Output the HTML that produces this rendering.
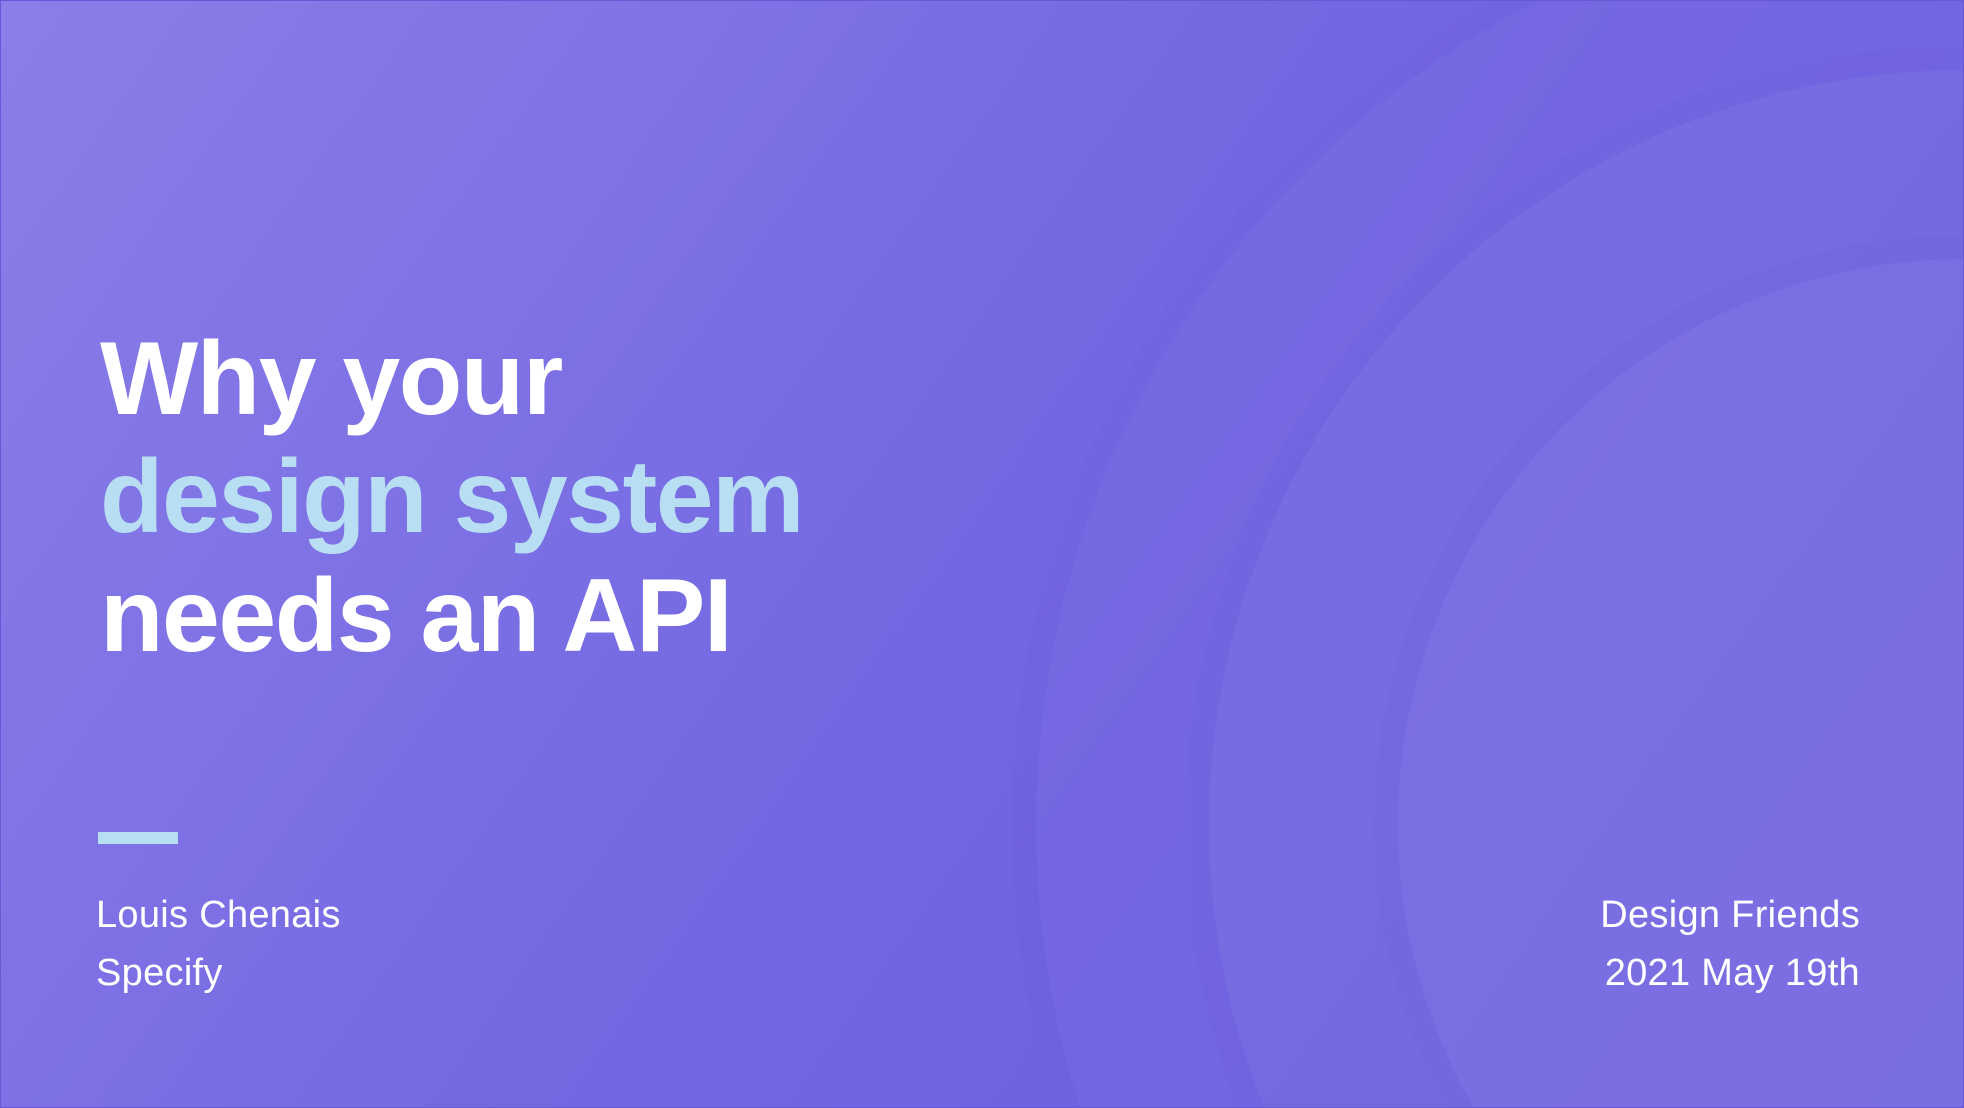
<!DOCTYPE html>
<html><head><meta charset="utf-8"><style>
html,body{margin:0;padding:0;width:1964px;height:1108px;overflow:hidden}
body{position:relative;font-family:"Liberation Sans",sans-serif;
background:linear-gradient(125deg,#8a7ee8 0%,#7a6ee4 35%,#7064e0 60%,#6b5ddf 100%);}
svg{position:absolute;left:0;top:0}
.t{position:absolute;left:100px;font-weight:bold;font-size:104px;letter-spacing:-1.5px;color:#fff;white-space:nowrap;line-height:1}
.s{position:absolute;font-size:38px;color:#fff;white-space:nowrap;line-height:1;letter-spacing:0.3px}
</style></head><body>
<svg width="1964" height="1108">
<circle cx="1964" cy="825" r="928" fill="#7d72e6" fill-opacity="0.3"/>
<circle cx="1964" cy="825" r="940" fill="none" stroke="#6a5cdb" stroke-opacity="0.12" stroke-width="24"/>
<circle cx="1964" cy="825" r="755" fill="#8076e6" fill-opacity="0.3"/>
<circle cx="1964" cy="825" r="767" fill="none" stroke="#6a5cdb" stroke-opacity="0.12" stroke-width="24"/>
<circle cx="1964" cy="825" r="566" fill="#847ae6" fill-opacity="0.3"/>
<circle cx="1964" cy="825" r="578" fill="none" stroke="#6a5cdb" stroke-opacity="0.12" stroke-width="24"/>
<rect x="0.5" y="0.5" width="1963" height="1107" fill="none" stroke="#6658d6" stroke-width="1"/>
</svg>
<div class="t" style="top:327px">Why your</div>
<div class="t" style="top:445px;color:#b8def3">design system</div>
<div class="t" style="top:564px">needs an API</div>
<div style="position:absolute;left:98px;top:832px;width:80px;height:12px;background:#b8def3"></div>
<div class="s" style="left:96px;top:896px">Louis Chenais</div>
<div class="s" style="left:96px;top:954px">Specify</div>
<div class="s" style="right:104px;top:896px;text-align:right">Design Friends</div>
<div class="s" style="right:104px;top:954px;text-align:right">2021 May 19th</div>
</body></html>
